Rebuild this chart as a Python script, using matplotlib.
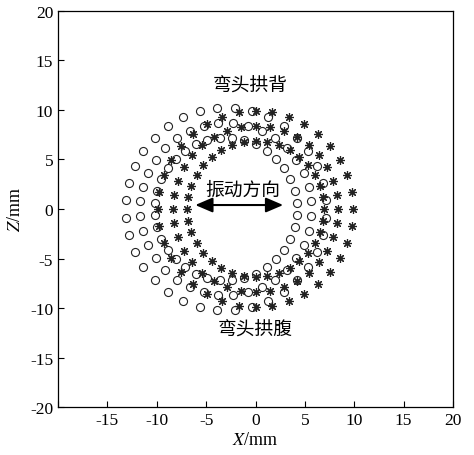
import numpy as np
import matplotlib
matplotlib.use('Agg')
import matplotlib.pyplot as plt

plt.rcParams['font.family'] = ['Liberation Serif', 'Noto Sans CJK SC']
plt.rcParams['mathtext.fontset'] = 'stix'
plt.rcParams['axes.unicode_minus'] = False

# ring data (mm / degrees)
circle_center = (-3.0, 0.0)
circle_radii = [10.2, 8.7, 7.2]
circle_angles = [5, 15, 25, 35, 45, 55, 65, 75, 85, 95, 105, 115, 125, 135, 145, 155, 165, 175,
                 185, 195, 205, 215, 225, 235, 245, 255, 265, 275, 285, 295, 305, 315, 325, 335, 345, 355]

star_center = (0.0, 0.0)
star_radii = [9.9, 8.4, 6.9]
star_angles = [0, 10, 20, 30, 40, 50, 60, 70, 80, 90, 100, 110, 120, 130, 140, 150, 160, 170,
               180, 190, 200, 210, 220, 230, 240, 250, 260, 270, 280, 290, 300, 310, 320, 330, 340, 350]

ticks = [-20, -15, -10, -5, 0, 5, 10, 15, 20]
xtick_labels = ['', '-15', '-10', '-5', '0', '5', '10', '15', '20']
ytick_labels = ['-20', '-15', '-10', '-5', '0', '5', '10', '15', '20']

fig = plt.figure(figsize=(4.74, 4.56), dpi=100)
ax = fig.add_axes([0.1224, 0.105, 0.8333, 0.869])

for r in circle_radii:
    a = np.radians(circle_angles)
    ax.plot(circle_center[0] + r * np.cos(a), circle_center[1] + r * np.sin(a), 'o',
            ls='none', ms=5.8, mfc='none', mec='#222222', mew=0.8)

for r in star_radii:
    a = np.radians(star_angles)
    ax.plot(star_center[0] + r * np.cos(a), star_center[1] + r * np.sin(a),
            marker=(8, 2, 0), ls='none', ms=6.3, mec='#222222', mew=0.85)

ax.set_xlim(-20, 20)
ax.set_ylim(-20, 20)
ax.set_xticks(ticks, xtick_labels)
ax.set_yticks(ticks, ytick_labels)
ax.tick_params(direction='in', length=4, width=0.8, labelsize=12.5, top=False, right=False)
ax.set_xlabel('$X$/mm', fontsize=13, labelpad=2)
ax.set_ylabel('$Z$/mm', fontsize=13, labelpad=4)
for s in ax.spines.values():
    s.set_linewidth(0.9)

cjk = ['Noto Sans CJK SC', 'DejaVu Sans']
ax.text(-0.5, 12.5, '弯头拱背', ha='center', va='center', fontsize=13.5, family=cjk)
ax.text(0.0, -12.1, '弯头拱腹', ha='center', va='center', fontsize=13.5, family=cjk)
ax.text(-1.3, 2.0, '振动方向', ha='center', va='center', fontsize=13.5, family=cjk)
ax.annotate('', xy=(2.8, 0.4), xytext=(-6.1, 0.4),
            arrowprops=dict(arrowstyle='<|-|>,head_length=0.7,head_width=0.3',
                            color='black', lw=1.5, shrinkA=0, shrinkB=0, mutation_scale=15))

fig.savefig('out.png', dpi=100)
